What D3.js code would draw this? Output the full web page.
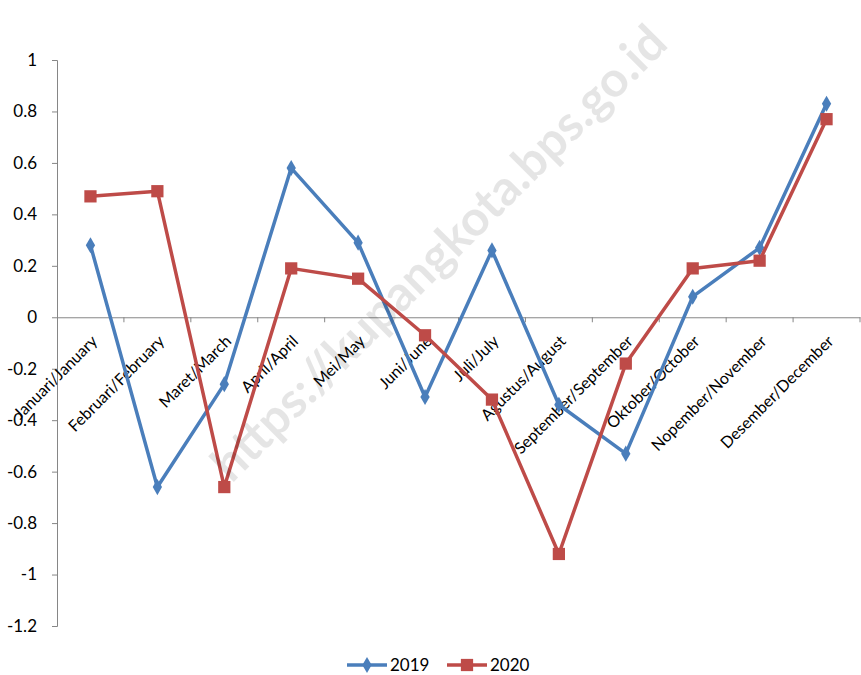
<!DOCTYPE html>
<html>
<head>
<meta charset="utf-8">
<script src="https://cdn.jsdelivr.net/npm/d3@7"></script>
<style>
  body { margin: 0; background: #fff; }
  text { font-family: Lato, "Open Sans", sans-serif; }
</style>
</head>
<body>
<div id="chart"></div>
<script>
const months = ["Januari/January", "Februari/February", "Maret/March", "April/April", "Mei/May",
  "Juni/June", "Juli/July", "Agustus/August", "September/September", "Oktober/October",
  "Nopember/November", "Desember/December"];
const values2019 = [0.28, -0.66, -0.26, 0.58, 0.29, -0.31, 0.26, -0.34, -0.53, 0.08, 0.27, 0.83];
const values2020 = [0.47, 0.49, -0.66, 0.19, 0.15, -0.07, -0.32, -0.92, -0.18, 0.19, 0.22, 0.77];
const yTicks = [1, 0.8, 0.6, 0.4, 0.2, 0, -0.2, -0.4, -0.6, -0.8, -1, -1.2];

const W = 861, H = 675;
const svg = d3.select("#chart").append("svg").attr("width", W).attr("height", H);

const x = d3.scaleBand().domain(months).range([57, 860]);
const y = d3.scaleLinear().domain([-1.2, 1]).range([626, 60]);

// y axis
const yAxis = svg.append("g").attr("transform", "translate(57,0)")
  .call(d3.axisLeft(y).tickValues(yTicks).tickSize(5).tickFormat(d => String(+d.toFixed(1))));
yAxis.select(".domain").attr("stroke", "#868686");
yAxis.selectAll(".tick line").attr("stroke", "#868686");
yAxis.selectAll(".tick text").attr("font-size", 17).attr("fill", "#000").attr("x", -20);

// x axis at zero
const xAxis = svg.append("g").attr("transform", `translate(0,${y(0)})`)
  .call(d3.axisBottom(x).tickSize(0).tickSizeOuter(0));
xAxis.select(".domain").attr("stroke", "#868686");
xAxis.selectAll(".tick").remove();
const bounds = months.map(m => x(m)).concat([x.range()[1]]);
xAxis.selectAll(".bound").data(bounds.slice(1)).enter().append("line")
  .attr("x1", d => d).attr("x2", d => d).attr("y1", 0).attr("y2", 5)
  .attr("stroke", "#868686");
xAxis.selectAll(".lbl").data(months).enter().append("text")
  .attr("transform", d => `translate(${x(d) + x.bandwidth() / 2 + 8},${25}) rotate(-45)`)
  .attr("text-anchor", "end")
  .attr("font-size", 16)
  .attr("fill", "#000")
  .text(d => d);

const cx = m => x(m) + x.bandwidth() / 2;
const series = [
  { name: "2019", values: values2019, color: "#4a7ebb", shape: d3.symbolDiamond, size: 75 },
  { name: "2020", values: values2020, color: "#be4b48", shape: d3.symbolSquare, size: 150 }
];

series.forEach(s => {
  const line = d3.line().x((d, i) => cx(months[i])).y(d => y(d));
  svg.append("path").datum(s.values)
    .attr("d", line).attr("fill", "none")
    .attr("stroke", s.color).attr("stroke-width", 3.5).attr("stroke-linejoin", "round");
  svg.selectAll(null).data(s.values).enter().append("path")
    .attr("d", d3.symbol().type(s.shape).size(s.size))
    .attr("transform", (d, i) => `translate(${cx(months[i])},${y(d)})`)
    .attr("fill", s.color);
});

// legend
const legend = svg.append("g").attr("transform", "translate(347,665)");
series.forEach((s, i) => {
  const g = legend.append("g").attr("transform", `translate(${i * 100},0)`);
  g.append("line").attr("x1", 0).attr("x2", 40).attr("stroke", s.color).attr("stroke-width", 3.5);
  g.append("path").attr("d", d3.symbol().type(s.shape).size(s.size)).attr("transform", "translate(20,0)")
    .attr("fill", s.color);
  g.append("text").attr("x", 43).attr("y", 0).attr("dy", "0.35em")
    .attr("font-size", 17).attr("fill", "#000").text(s.name);
});

// watermark, drawn on top
svg.append("text")
  .attr("transform", "translate(442,256) rotate(-45)")
  .attr("text-anchor", "middle")
  .attr("dominant-baseline", "middle")
  .attr("font-size", 49)
  .attr("font-weight", "bold")
  .attr("fill", "#000")
  .attr("fill-opacity", 0.1)
  .text("https://kupangkota.bps.go.id");
</script>
</body>
</html>
